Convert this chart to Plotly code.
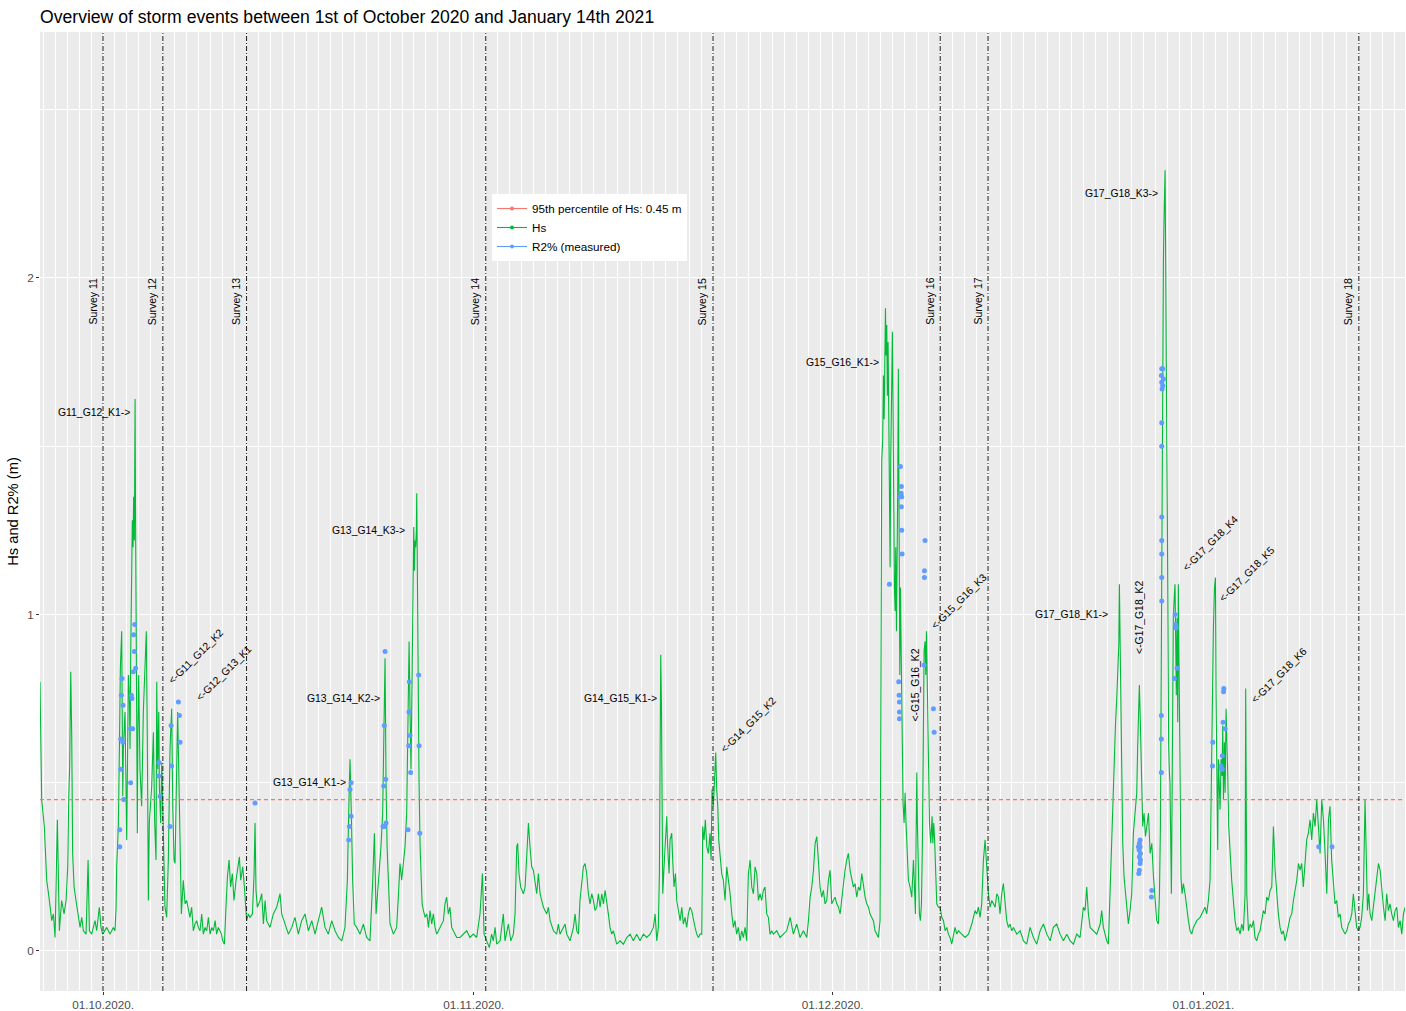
import pandas as pd
import plotly.graph_objects as go

TITLE = "Overview of storm events between 1st of October 2020 and January 14th 2021"
START = pd.Timestamp("2020-10-01")

# Hs time series: days after 2020-10-01 00:00 and wave height (m)
hs_day = [
    -5.27, -5.24, -5.13, -4.91, -4.71, -4.52, -4.29, -4.15, -4.01, -3.82, -3.65, -3.46, -3.26, -3.09,
    -2.95, -2.87, -2.79, -2.70, -2.62, -2.54, -2.42, -2.26, -2.06, -1.92, -1.78, -1.64, -1.42, -1.25,
    -1.14, -0.95, -0.67, -0.53, -0.31, -0.17, -0.03, 0.31, 0.59, 0.86, 1.00, 1.09,
    1.14, 1.28, 1.37, 1.45, 1.56, 1.65, 1.70, 1.84, 1.98, 2.12, 2.20, 2.26, 2.31, 2.40, 2.45, 2.51,
    2.56, 2.62, 2.68, 2.71, 2.76, 2.81, 2.87, 2.92, 2.98, 3.09, 3.23, 3.37, 3.51, 3.62, 3.71, 3.79,
    3.87, 4.07, 4.21, 4.32, 4.43, 4.49, 4.57, 4.66, 4.71, 4.82, 4.91, 4.99, 5.08, 5.18, 5.32, 5.46,
    5.60, 5.69, 5.74, 5.83, 5.94, 6.02, 6.16, 6.24, 6.33, 6.44, 6.55, 6.71, 6.86, 6.99, 7.27, 7.41,
    7.55, 7.69, 7.83, 7.97, 8.11, 8.25, 8.39, 8.53, 8.67, 8.81, 8.95, 9.09, 9.23, 9.37, 9.50, 9.64,
    9.78, 9.90, 10.01, 10.15, 10.28, 10.40, 10.54, 10.67, 10.81, 10.95, 11.12, 11.26, 11.40, 11.51,
    11.68, 11.82, 11.93, 12.01, 12.15, 12.29, 12.49, 12.63, 12.71, 12.79, 12.90, 13.13,
    13.27, 13.41, 13.55, 13.68, 13.96, 14.24, 14.52, 14.80, 14.94, 15.22, 15.50, 15.78, 16.05, 16.33,
    16.61, 16.89, 17.17, 17.45, 17.73, 18.00, 18.28, 18.56, 18.84, 19.12, 19.40, 19.68, 19.96, 20.23,
    20.43, 20.54, 20.65, 20.76, 20.87, 21.01, 21.21, 21.49, 21.77, 22.04, 22.32, 22.55, 22.69, 22.83,
    22.94, 23.10, 23.24, 23.38, 23.49, 23.58, 23.66, 23.75, 23.86, 24.00, 24.28, 24.55, 24.69, 24.83,
    24.97, 25.11, 25.25, 25.39, 25.50, 25.59, 25.67, 25.75, 25.84, 25.92, 25.98, 26.03, 26.09, 26.14,
    26.20, 26.23, 26.28, 26.34, 26.37, 26.42, 26.51, 26.59, 26.68, 26.79, 26.93, 27.07, 27.21, 27.34,
    27.48, 27.62, 27.76, 27.90, 28.18, 28.46, 28.59, 28.73, 28.87, 29.01, 29.15, 29.29, 29.57, 29.85,
    30.13, 30.41, 30.68, 30.96, 31.24, 31.52, 31.72, 31.86, 32.08, 32.30, 32.49, 32.63,
    32.78, 32.92, 33.20, 33.47, 33.61, 33.89, 34.09, 34.31, 34.45, 34.59, 34.67, 34.78, 34.92, 35.15,
    35.29, 35.43, 35.57, 35.70, 35.84, 35.98, 36.12, 36.26, 36.40, 36.54, 36.68, 36.82, 37.10, 37.24,
    37.38, 37.66, 37.93, 38.07, 38.21, 38.49, 38.63, 38.77, 39.05, 39.33, 39.47, 39.61, 39.75, 39.88,
    40.02, 40.16, 40.30, 40.44, 40.58, 40.72, 40.86, 41.00, 41.14, 41.28, 41.42, 41.56, 41.70, 41.84,
    41.98, 42.11, 42.25, 42.39, 42.53, 42.67, 42.95, 43.23, 43.51, 43.79, 44.07, 44.34, 44.62, 44.90,
    45.18, 45.46, 45.74, 46.02, 46.16, 46.30, 46.43, 46.52, 46.57, 46.63, 46.69, 46.74, 46.80, 46.88,
    46.99, 47.13, 47.21, 47.33, 47.41, 47.55, 47.63, 47.74, 47.86, 47.97, 48.11, 48.25, 48.39, 48.52,
    48.66, 48.80, 48.94, 49.08, 49.22, 49.36, 49.50, 49.64, 49.78, 49.92, 50.06, 50.14, 50.25, 50.36,
    50.48, 50.61, 50.75, 50.84, 50.92, 51.03, 51.12, 51.23, 51.31, 51.40, 51.48, 51.59, 51.73, 51.87,
    52.01, 52.15, 52.29, 52.43, 52.57, 52.71, 52.84, 52.98, 53.12, 53.26, 53.40, 53.54, 53.68, 53.82,
    53.96, 54.10, 54.24, 54.38, 54.52, 54.66, 54.80, 54.93, 55.07, 55.21, 55.35, 55.49, 55.63, 55.77,
    55.91, 56.05, 56.33, 56.61, 56.88, 57.16,
    57.45, 57.72, 58.00, 58.28, 58.56, 58.84, 58.98, 59.12, 59.26, 59.40, 59.54, 59.68, 59.81, 59.95,
    60.09, 60.23, 60.37, 60.51, 60.65, 60.79, 60.93, 61.07, 61.21, 61.35, 61.49, 61.63, 61.77, 61.91,
    62.04, 62.18, 62.32, 62.46, 62.60, 62.74, 62.88, 63.02, 63.16, 63.30, 63.44, 63.58, 63.72, 63.86,
    64.00, 64.13, 64.27, 64.41, 64.55, 64.69, 64.83, 64.97, 65.05, 65.11, 65.19, 65.25, 65.31, 65.36,
    65.42, 65.47, 65.53, 65.58, 65.64, 65.70, 65.75, 65.81, 65.86, 65.95, 66.00, 66.06, 66.11, 66.17,
    66.23, 66.28, 66.34, 66.39, 66.45, 66.50, 66.56, 66.62, 66.67, 66.73, 66.78, 66.84, 66.89, 66.98,
    67.06, 67.14, 67.23, 67.34, 67.48, 67.62, 67.76, 67.84, 67.93, 67.98, 68.04, 68.09, 68.18, 68.26,
    68.34, 68.43, 68.51, 68.59, 68.65, 68.73, 68.79, 68.85, 68.90, 68.96, 69.01, 69.10, 69.21, 69.32,
    69.38, 69.46, 69.54, 69.63, 69.71, 69.85, 69.99, 70.13, 70.27, 70.41, 70.55, 70.68, 70.82, 70.96,
    71.10, 71.24, 71.38, 71.52,
    71.80, 72.08, 72.36, 72.64, 72.91, 73.05, 73.19, 73.33, 73.47, 73.61, 73.75, 73.89, 74.03, 74.17,
    74.31, 74.45, 74.59, 74.73, 74.87, 75.00, 75.14, 75.28, 75.42, 75.56, 75.70, 75.84, 75.98, 76.12,
    76.40, 76.68, 76.96, 77.23, 77.51, 77.79, 78.07, 78.35, 78.63, 78.91, 79.19, 79.46, 79.74, 80.02,
    80.30, 80.58, 80.86, 81.14, 81.41, 81.69, 81.97, 82.11, 82.25, 82.39, 82.53, 82.81, 83.09, 83.37,
    83.50, 83.64, 83.92, 84.06, 84.20, 84.29, 84.37, 84.48, 84.56, 84.65, 84.76, 84.84, 84.93, 84.98,
    85.04, 85.09, 85.18, 85.26, 85.37, 85.48, 85.60, 85.73, 85.87, 86.01, 86.15, 86.29, 86.43, 86.51,
    86.60, 86.65, 86.74, 86.85, 86.93, 87.04, 87.16, 87.27, 87.41, 87.55, 87.69, 87.83, 87.96, 88.10,
    88.24, 88.33, 88.41, 88.49, 88.55, 88.60, 88.66, 88.71, 88.80, 88.85, 88.88, 88.94, 88.99, 89.05,
    89.10, 89.16, 89.21, 89.33, 89.38, 89.44, 89.49, 89.58, 89.63, 89.69, 89.74, 89.80, 89.86, 89.91,
    89.97, 90.05, 90.13, 90.22, 90.33, 90.47, 90.61, 90.75, 90.89, 91.03, 91.17, 91.45, 91.73, 92.00,
    92.14, 92.28, 92.42, 92.56, 92.65, 92.73, 92.84, 92.93, 93.01, 93.06, 93.12, 93.20, 93.26, 93.34,
    93.40, 93.48, 93.57, 93.62, 93.68, 93.76, 93.82, 93.90, 93.96, 94.04, 94.12, 94.24, 94.37, 94.51,
    94.65, 94.79, 94.93, 95.07, 95.21, 95.35, 95.49, 95.54, 95.63, 95.77, 95.91, 96.05, 96.19, 96.32,
    96.46, 96.60, 96.74, 96.88, 97.02, 97.16, 97.30, 97.44, 97.58, 97.72, 97.86, 98.00, 98.14, 98.27,
    98.41, 98.55, 98.69, 98.83, 98.97, 99.11, 99.25, 99.39, 99.53, 99.81, 99.95, 100.09, 100.22, 100.36,
    100.50, 100.64, 100.78, 100.92, 101.06, 101.20, 101.34, 101.48, 101.62, 101.76, 101.90, 102.04,
    102.18, 102.32, 102.46, 102.59, 102.73, 102.87, 103.01, 103.15, 103.29, 103.43, 103.57, 103.71,
    103.85, 103.99, 104.13, 104.27, 104.41, 104.54, 104.68, 104.82, 104.96, 105.10, 105.24, 105.38,
    105.52, 105.60, 105.72, 105.83, 105.94, 106.08, 106.22, 106.36, 106.50, 106.64, 106.78, 106.92,
    107.06, 107.20, 107.33, 107.47, 107.61, 107.75, 107.89, 108.03, 108.17, 108.31, 108.45, 108.59,
    108.73, 108.87,
]
hs_value = [
    0.80, 0.68, 0.45, 0.37, 0.21, 0.16, 0.09, 0.11, 0.04, 0.39, 0.06, 0.15, 0.11, 0.15,
    0.25, 0.45, 0.55, 0.83, 0.65, 0.29, 0.19, 0.15, 0.11, 0.07, 0.10, 0.06, 0.05, 0.27,
    0.06, 0.05, 0.09, 0.06, 0.13, 0.07, 0.05, 0.07, 0.05, 0.07, 0.06, 0.13,
    0.25, 0.37, 0.60, 0.84, 0.95, 0.46, 0.60, 0.71, 0.33, 0.82, 0.76, 0.60, 0.87, 1.13, 1.28, 1.20,
    1.35, 1.22, 1.64, 1.35, 1.02, 0.43, 0.35, 0.65, 0.82, 0.54, 0.43, 0.71, 0.84, 0.95, 0.60, 0.15,
    0.38, 0.49, 0.65, 0.38, 0.27, 0.80, 0.54, 0.71, 0.49, 0.38, 0.56, 0.45, 0.25, 0.13, 0.10, 0.27,
    0.60, 0.71, 0.72, 0.43, 0.27, 0.26, 0.65, 0.71, 0.54, 0.27, 0.11, 0.21, 0.14, 0.15, 0.10, 0.13,
    0.06, 0.08, 0.09, 0.07, 0.06, 0.11, 0.05, 0.07, 0.06, 0.10, 0.05, 0.07, 0.06, 0.09, 0.05, 0.07,
    0.06, 0.05, 0.03, 0.02, 0.13, 0.22, 0.27, 0.19, 0.23, 0.15, 0.21, 0.24, 0.28, 0.21,
    0.25, 0.19, 0.13, 0.09, 0.11, 0.10, 0.11, 0.23, 0.38, 0.18, 0.13, 0.15,
    0.17, 0.08, 0.15, 0.09, 0.07, 0.11, 0.13, 0.17, 0.11, 0.08, 0.05, 0.07, 0.10, 0.05,
    0.09, 0.11, 0.06, 0.09, 0.05, 0.09, 0.13, 0.07, 0.05, 0.09, 0.06, 0.04, 0.03, 0.07,
    0.21, 0.41, 0.57, 0.41, 0.21, 0.08, 0.07, 0.05, 0.08, 0.04, 0.03, 0.21, 0.35, 0.11,
    0.16, 0.23, 0.31, 0.41, 0.71, 0.87, 0.51, 0.31, 0.21, 0.08, 0.05, 0.07, 0.16, 0.26,
    0.21, 0.27, 0.31, 0.41, 0.71, 0.92, 0.71, 0.54, 0.81, 1.15, 1.26, 1.13, 1.22, 1.20,
    1.25, 1.36, 1.10, 1.00, 0.81, 0.51, 0.31, 0.21, 0.14, 0.12, 0.10, 0.11, 0.07, 0.12,
    0.08, 0.11, 0.07, 0.05, 0.07, 0.09, 0.14, 0.16, 0.11, 0.13, 0.07, 0.06, 0.04, 0.04,
    0.05, 0.06, 0.04, 0.05, 0.04, 0.11, 0.23, 0.05, 0.03, 0.01, 0.05, 0.03,
    0.07, 0.02, 0.03, 0.11, 0.03, 0.08, 0.03, 0.05, 0.11, 0.31, 0.32, 0.23, 0.19, 0.17,
    0.19, 0.29, 0.38, 0.31, 0.25, 0.24, 0.21, 0.17, 0.23, 0.17, 0.15, 0.13, 0.11, 0.13,
    0.09, 0.06, 0.05, 0.08, 0.05, 0.07, 0.08, 0.05, 0.03, 0.07, 0.11, 0.06, 0.05, 0.15,
    0.21, 0.25, 0.26, 0.23, 0.17, 0.14, 0.17, 0.15, 0.12, 0.13, 0.17, 0.13, 0.17, 0.14,
    0.18, 0.15, 0.11, 0.07, 0.05, 0.06, 0.02, 0.03, 0.02, 0.04, 0.05, 0.03, 0.05, 0.03,
    0.05, 0.04, 0.05, 0.07, 0.11, 0.03, 0.07, 0.23, 0.63, 0.88, 0.73, 0.43, 0.17, 0.23,
    0.29, 0.40, 0.31, 0.23, 0.33, 0.35, 0.27, 0.19, 0.23, 0.15, 0.12, 0.09, 0.13, 0.08,
    0.10, 0.07, 0.11, 0.13, 0.12, 0.09, 0.07, 0.05, 0.04, 0.05, 0.05, 0.37, 0.33, 0.39,
    0.31, 0.29, 0.35, 0.27, 0.48, 0.43, 0.51, 0.59, 0.48, 0.43, 0.33, 0.29, 0.23, 0.21,
    0.15, 0.25, 0.21, 0.17, 0.11, 0.07, 0.09, 0.05, 0.07, 0.03, 0.06, 0.04, 0.07, 0.03,
    0.23, 0.27, 0.19, 0.17, 0.25, 0.23, 0.15, 0.17, 0.15, 0.18, 0.19, 0.11, 0.10, 0.05,
    0.06, 0.05, 0.06, 0.04, 0.05, 0.06,
    0.10, 0.05, 0.08, 0.04, 0.06, 0.04, 0.09, 0.16, 0.19, 0.24, 0.32, 0.34, 0.27, 0.19,
    0.16, 0.18, 0.14, 0.15, 0.21, 0.24, 0.14, 0.15, 0.16, 0.14, 0.13, 0.11, 0.16, 0.21,
    0.24, 0.27, 0.29, 0.24, 0.21, 0.19, 0.20, 0.16, 0.19, 0.18, 0.23, 0.19, 0.16, 0.14,
    0.13, 0.11, 0.10, 0.09, 0.06, 0.05, 0.04, 0.09, 0.70, 1.46, 1.52, 1.71, 1.58, 1.84,
    1.91, 1.77, 1.86, 1.65, 1.81, 1.58, 1.39, 1.14, 1.46, 1.71, 1.84, 1.58, 1.20, 1.08,
    1.01, 1.20, 0.95, 1.08, 1.39, 1.73, 1.33, 0.82, 1.08, 0.89, 0.70, 0.57, 0.44, 0.38,
    0.47, 0.38, 0.29, 0.21, 0.19, 0.16, 0.27, 0.19, 0.11, 0.32, 0.53, 0.38, 0.19, 0.11,
    0.09, 0.14, 0.32, 0.70, 0.89, 0.92, 0.82, 0.95, 0.82, 0.63, 0.51, 0.38, 0.32, 0.40,
    0.32, 0.38, 0.32, 0.19, 0.14, 0.13, 0.13, 0.10, 0.09, 0.06, 0.07, 0.05, 0.04, 0.02,
    0.05, 0.07, 0.05, 0.06,
    0.05, 0.04, 0.05, 0.08, 0.12, 0.11, 0.13, 0.10, 0.14, 0.27, 0.33, 0.25, 0.17, 0.13,
    0.15, 0.14, 0.13, 0.17, 0.16, 0.11, 0.17, 0.20, 0.14, 0.09, 0.07, 0.08, 0.06, 0.07,
    0.05, 0.06, 0.03, 0.02, 0.07, 0.04, 0.02, 0.06, 0.08, 0.05, 0.03, 0.07, 0.08, 0.05,
    0.03, 0.05, 0.03, 0.02, 0.05, 0.04, 0.13, 0.12, 0.19, 0.11, 0.07, 0.06, 0.05, 0.08,
    0.12, 0.07, 0.03, 0.02, 0.17, 0.32, 0.37, 0.47, 0.57, 0.67, 0.75, 0.85, 0.91, 1.09,
    0.89, 0.77, 0.47, 0.32, 0.22, 0.17, 0.12, 0.08, 0.12, 0.17, 0.35, 0.41, 0.47, 0.61,
    0.77, 0.79, 0.67, 0.47, 0.37, 0.41, 0.34, 0.37, 0.41, 0.29, 0.32, 0.22, 0.14, 0.09,
    0.08, 0.17, 0.37, 0.90, 1.59, 1.90, 2.05, 2.17, 2.32, 2.05, 1.74, 1.52, 1.29, 0.83,
    0.61, 0.53, 0.50, 0.17, 0.45, 0.68, 0.99, 1.06, 1.09, 0.91, 0.76, 0.99, 0.68, 1.09,
    0.83, 0.35, 0.22, 0.17, 0.20, 0.17, 0.12, 0.09, 0.06, 0.05, 0.07, 0.09, 0.10, 0.12,
    0.13, 0.11, 0.15, 0.21, 0.47, 0.77, 0.96, 1.08, 1.11, 0.77, 0.47, 0.30, 0.57, 0.47,
    0.42, 0.57, 0.52, 0.67, 0.45, 0.62, 0.47, 0.72, 0.57, 0.52, 0.37, 0.27, 0.21, 0.15,
    0.09, 0.06, 0.07, 0.05, 0.08, 0.06, 0.17, 0.78, 0.17, 0.06, 0.08, 0.07, 0.09, 0.04,
    0.03, 0.05, 0.06, 0.09, 0.12, 0.11, 0.16, 0.15, 0.18, 0.19, 0.37, 0.24, 0.17, 0.11,
    0.07, 0.05, 0.06, 0.03, 0.05, 0.08, 0.10, 0.11, 0.15, 0.21, 0.26, 0.24, 0.26, 0.19,
    0.27, 0.33, 0.35, 0.39, 0.33, 0.41, 0.37, 0.45, 0.37, 0.29, 0.45, 0.39,
    0.29, 0.17, 0.39, 0.43, 0.27, 0.21, 0.14, 0.15, 0.10, 0.11, 0.07, 0.06,
    0.05, 0.06, 0.08, 0.09, 0.11, 0.17, 0.12, 0.07, 0.06, 0.07, 0.10, 0.17,
    0.45, 0.27, 0.12, 0.17, 0.11, 0.09, 0.13, 0.17, 0.21, 0.26, 0.24, 0.17,
    0.13, 0.09, 0.17, 0.12, 0.14, 0.11, 0.09, 0.12, 0.13, 0.07, 0.09, 0.05,
    0.11, 0.13,
]

# Measured R2% points
r2_day = [
    2.65, 2.56, 2.62, 2.73, 2.53, 1.59, 1.53, 1.67, 2.37, 2.42, 2.31, 2.48, 1.48, 1.65, 1.48, 2.31,
    1.73, 1.40, 1.40, 4.68, 4.66, 4.77, 5.60, 5.69, 5.74, 6.30, 6.38, 6.44, 12.71,
    20.74, 20.65, 20.74, 20.60, 20.54, 23.58, 23.52, 23.63, 23.47, 23.41, 23.52, 23.66,
    25.61, 25.58, 25.67, 25.56, 25.72, 25.50, 26.39, 26.42, 26.48,
    66.67, 66.75, 66.73, 66.78, 66.64, 66.75, 66.78, 66.81, 65.75, 66.53, 66.56, 66.59, 66.59, 66.59,
    68.73, 68.68, 68.68, 68.65, 69.43, 69.49,
    86.71, 86.65, 86.57, 86.71, 86.63, 86.74, 86.65, 86.74, 86.71, 86.65, 86.60, 87.69, 87.66,
    88.52, 88.60, 88.49, 88.66, 88.52, 88.60, 88.55, 88.52, 88.52, 88.52, 88.52, 88.52, 88.52, 88.52,
    88.49, 88.49, 88.49, 89.64, 89.69, 89.72, 89.80, 89.58,
    93.71, 93.69, 93.65, 93.82, 92.79, 92.76, 93.59, 93.48, 93.54, 93.57, 101.65, 102.76,
]
r2_value = [
    0.97, 0.94, 0.89, 0.84, 0.83, 0.81, 0.76, 0.73, 0.76, 0.75, 0.66, 0.66, 0.63, 0.62, 0.54, 0.50,
    0.45, 0.36, 0.31, 0.56, 0.52, 0.46, 0.37, 0.67, 0.55, 0.74, 0.70, 0.62, 0.44,
    0.50, 0.48, 0.40, 0.37, 0.33, 0.89, 0.67, 0.51, 0.49, 0.37, 0.37, 0.38,
    0.80, 0.71, 0.64, 0.61, 0.53, 0.36, 0.82, 0.61, 0.35,
    1.44, 1.38, 1.36, 1.35, 1.35, 1.32, 1.25, 1.18, 1.09, 0.80, 0.76, 0.74, 0.71, 0.69,
    1.22, 1.13, 1.11, 0.85, 0.72, 0.65,
    0.33, 0.32, 0.31, 0.31, 0.30, 0.29, 0.28, 0.27, 0.26, 0.24, 0.23, 0.18, 0.16,
    1.73, 1.73, 1.71, 1.70, 1.69, 1.68, 1.67, 1.57, 1.50, 1.29, 1.22, 1.18, 1.11, 1.04,
    0.70, 0.63, 0.53, 1.00, 0.97, 0.96, 0.84, 0.81,
    0.78, 0.77, 0.68, 0.66, 0.62, 0.55, 0.58, 0.55, 0.54, 0.54, 0.31, 0.31,
]

hs_p95 = 0.45
legend_names = ["95th percentile of Hs: 0.45 m", "Hs", "R2% (measured)"]

survey_names = ["Survey 11", "Survey 12", "Survey 13", "Survey 14", "Survey 15", "Survey 16", "Survey 17", "Survey 18"]
survey_dates = ["2020-10-01", "2020-10-06", "2020-10-13", "2020-11-02", "2020-11-21", "2020-12-10", "2020-12-14", "2021-01-14"]
survey_label_y = 1.93

event_labels = [
    "G11_G12_K1->", "<-G11_G12_K2", "<-G12_G13_K1", "G13_G14_K1->", "G13_G14_K2->", "G13_G14_K3->",
    "G14_G15_K1->", "<-G14_G15_K2", "G15_G16_K1->", "<-G15_G16_K2", "<-G15_G16_K3", "G17_G18_K1->",
    "<-G17_G18_K2", "G17_G18_K3->", "<-G17_G18_K4", "<-G17_G18_K5", "<-G17_G18_K6",
]
event_day = [-0.79, 7.78, 10.06, 17.27, 20.11, 22.20, 43.27, 54.00, 61.83, 67.93, 71.54, 80.98,
             86.71, 85.16, 92.58, 95.60, 98.31]
event_value = [1.60, 0.874, 0.826, 0.50, 0.75, 1.25, 0.75, 0.672, 1.75, 0.79, 1.04, 1.00,
               0.99, 2.25, 1.21, 1.12, 0.82]
event_angle = [0, -45, -45, 0, 0, 0, 0, -45, 0, -90, -45, 0, -90, 0, -45, -45, -45]

x_tick_dates = ["2020-10-01", "2020-11-01", "2020-12-01", "2021-01-01"]
x_tick_text = ["01.10.2020.", "01.11.2020.", "01.12.2020.", "01.01.2021."]
y_ticks = [0, 1, 2]
y_minor_ticks = [0.5, 1.5, 2.5]
x_range_days = [-5.27, 108.86]
y_range = [-0.119, 2.731]


def to_dt(days):
    return START + pd.to_timedelta(pd.Series(days, dtype=float), unit="D")


FONT = "Liberation Sans, Arial, sans-serif"
RED, GREEN, BLUE = "#F8766D", "#00BA38", "#619CFF"

hs_x = to_dt(hs_day)
r2_x = to_dt(r2_day)
xr = to_dt(x_range_days)

fig = go.Figure()
fig.add_trace(go.Scatter(x=hs_x, y=hs_value, mode="lines", line=dict(color=GREEN, width=1.1),
                         showlegend=False, hoverinfo="skip"))
fig.add_trace(go.Scatter(x=list(xr), y=[hs_p95, hs_p95], mode="lines",
                         line=dict(color=RED, width=1.2, dash="4px,3px"), showlegend=False))
fig.add_trace(go.Scatter(x=r2_x, y=r2_value, mode="markers",
                         marker=dict(color=BLUE, size=5), showlegend=False))

for name, col in zip(legend_names, [RED, GREEN, BLUE]):
    fig.add_trace(go.Scatter(x=[None], y=[None], mode="lines+markers", name=name,
                             line=dict(color=col, width=1.1), marker=dict(color=col, size=4)))

shapes = []
annotations = []
for name, d in zip(survey_names, survey_dates):
    shapes.append(dict(type="line", xref="x", yref="paper", x0=d, x1=d, y0=0, y1=1,
                       line=dict(color="#1a1a1a", width=1, dash="5px,2px,1px,2px"), layer="above"))
    annotations.append(dict(x=d, y=survey_label_y, xref="x", yref="y", text=name, showarrow=False,
                            textangle=-90, xshift=-11, font=dict(family=FONT, size=10.5, color="black")))

for lab, d, v, ang in zip(event_labels, to_dt(event_day), event_value, event_angle):
    annotations.append(dict(x=d, y=v, xref="x", yref="y", text=lab, showarrow=False, textangle=ang,
                            font=dict(family=FONT, size=10.4, color="black")))

fig.update_layout(
    width=1406, height=1011,
    margin=dict(l=40, r=1, t=32, b=20),
    paper_bgcolor="white", plot_bgcolor="#EBEBEB",
    font=dict(family=FONT, color="black"),
    title=dict(text=TITLE, x=40 / 1406, xanchor="left", xref="container",
               y=1 - 17 / 1011, yanchor="middle", yref="container",
               font=dict(family=FONT, size=17.6, color="black")),
    shapes=shapes, annotations=annotations,
    legend=dict(x=(492 - 40) / 1365, y=(991 - 194) / 959, xanchor="left", yanchor="top",
                bgcolor="white", borderwidth=0, font=dict(family=FONT, size=11.7, color="black"),
                itemwidth=30, tracegroupgap=0),
    xaxis=dict(type="date", range=list(xr), tickmode="array", tickvals=x_tick_dates, ticktext=x_tick_text,
               ticks="outside", ticklen=3, tickcolor="#333333", tickwidth=1,
               tickfont=dict(family=FONT, size=11.7, color="#4D4D4D"),
               showgrid=True, gridcolor="white", gridwidth=1.1, zeroline=False, showline=False,
               minor=dict(tickmode="linear", tick0="2020-09-26", dtick=86400000, showgrid=True,
                          gridcolor="white", gridwidth=0.55, ticks="")),
    yaxis=dict(range=y_range, tickmode="array", tickvals=y_ticks, ticktext=[str(t) for t in y_ticks],
               ticks="outside", ticklen=3, tickcolor="#333333", tickwidth=1,
               tickfont=dict(family=FONT, size=11.7, color="#4D4D4D"),
               showgrid=True, gridcolor="white", gridwidth=1.1, zeroline=False, showline=False,
               minor=dict(tickmode="array", tickvals=y_minor_ticks, showgrid=True,
                          gridcolor="white", gridwidth=0.55, ticks=""),
               title=dict(text="Hs and R2% (m)", standoff=4, font=dict(family=FONT, size=14.7, color="black"))),
)

fig.write_html("out.html", config={"displayModeBar": False},
               post_script="document.body.style.margin='0';document.body.style.overflow='hidden';")
